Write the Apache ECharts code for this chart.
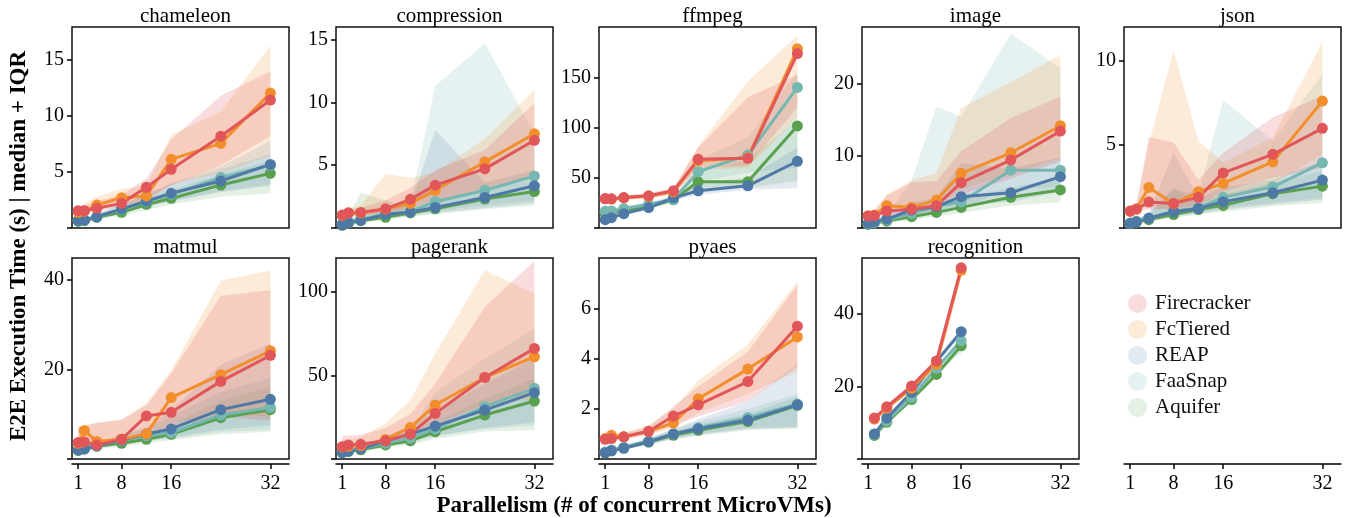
<!DOCTYPE html>
<html>
<head>
<meta charset="utf-8">
<title>E2E execution time vs parallelism</title>
<script src="https://cdn.jsdelivr.net/npm/echarts@6/dist/echarts.min.js"></script>
<style>
  html, body { margin: 0; padding: 0; background: #fff; }
  #chart { width: 1348px; height: 518px; }
</style>
</head>
<body>
<div id="chart"></div>
<script>
var systems = ['Firecracker', 'FcTiered', 'REAP', 'FaaSnap', 'Aquifer'];
var benchmarks = ['chameleon', 'compression', 'ffmpeg', 'image', 'json',
                  'matmul', 'pagerank', 'pyaes', 'recognition'];
var parallelism = [1, 2, 4, 8, 12, 16, 24, 32];
var parallelismRecognition = [2, 4, 8, 12, 16];
var xTickValues = [1, 8, 16, 32];
var yTickValues = [[0, 5, 10, 15], [0, 5, 10, 15], [0, 50, 100, 150], [0, 10, 20], [0, 5, 10],
                   [0, 20, 40], [0, 50, 100], [0, 2, 4, 6], [0, 20, 40]];
var yMax = [17.95, 16, 200, 27.8, 12, 44.8, 120.3, 8.05, 55.4];

// rows: Firecracker, FcTiered, REAP, FaaSnap, Aquifer
var chameleonMed = [
  [1.55, 1.55, 1.76, 2.2, 3.63, 5.24, 8.2, 11.43],
  [1.4, 1.5, 2.05, 2.7, 2.86, 6.13, 7.56, 12.05],
  [0.65, 0.7, 1.0, 1.7, 2.4, 3.1, 4.2, 5.68],
  [0.65, 0.72, 1.0, 1.65, 2.35, 3.0, 4.5, 5.6],
  [0.6, 0.65, 0.95, 1.4, 2.1, 2.65, 3.84, 4.88]];
var chameleonLo = [
  [1.3, 1.3, 1.5, 1.9, 2.6, 3.8, 5.6, 8.2],
  [1.2, 1.3, 1.6, 2.0, 2.3, 3.9, 4.9, 6.4],
  [0.5, 0.55, 0.8, 1.3, 1.9, 2.4, 3.2, 3.8],
  [0.5, 0.55, 0.8, 1.3, 1.9, 2.4, 3.3, 3.9],
  [0.45, 0.5, 0.75, 1.1, 1.6, 2.1, 2.8, 3.1]];
var chameleonHi = [
  [1.9, 2.0, 2.4, 3.0, 4.4, 7.9, 11.8, 14.0],
  [1.8, 2.2, 2.8, 3.5, 3.8, 8.3, 10.4, 16.3],
  [0.8, 0.9, 1.3, 2.1, 3.0, 4.0, 5.5, 7.8],
  [0.8, 0.9, 1.3, 2.1, 3.0, 3.9, 5.2, 6.6],
  [0.75, 0.8, 1.2, 1.8, 2.6, 3.4, 4.8, 6.0]];

var compressionMed = [
  [1.03, 1.21, 1.24, 1.53, 2.28, 3.41, 4.71, 6.98],
  [1.0, 1.2, 1.2, 1.5, 1.96, 3.0, 5.26, 7.5],
  [0.24, 0.42, 0.6, 1.08, 1.27, 1.64, 2.43, 3.36],
  [0.35, 0.5, 0.7, 1.1, 1.3, 2.09, 3.0, 4.13],
  [0.22, 0.4, 0.58, 0.85, 1.2, 1.53, 2.3, 2.9]];
var compressionLo = [
  [0.8, 1.0, 1.0, 1.2, 1.6, 2.2, 3.0, 4.2],
  [0.8, 0.95, 1.0, 1.2, 1.5, 2.1, 3.2, 4.0],
  [0.15, 0.3, 0.45, 0.8, 1.0, 1.2, 1.6, 2.0],
  [0.2, 0.35, 0.5, 0.85, 1.0, 1.4, 1.8, 2.2],
  [0.15, 0.3, 0.4, 0.65, 0.9, 1.1, 1.5, 1.8]];
var compressionHi = [
  [1.3, 1.5, 1.6, 2.2, 3.2, 4.6, 6.2, 9.95],
  [1.3, 1.6, 1.8, 4.3, 4.0, 4.4, 7.1, 11.0],
  [0.4, 0.6, 0.9, 1.5, 1.8, 7.8, 3.6, 4.6],
  [0.5, 0.7, 1.0, 1.6, 2.0, 11.3, 14.7, 7.5],
  [0.35, 1.0, 2.8, 2.2, 1.6, 2.2, 3.0, 3.9]];

var ffmpegMed = [
  [29.3, 29.0, 30.3, 32.0, 37.0, 68.3, 69.3, 173.6],
  [29.0, 28.8, 30.0, 31.5, 36.0, 67.0, 70.0, 178.3],
  [8.3, 10.3, 14.3, 20.3, 30.0, 37.0, 42.0, 66.4],
  [16.6, 17.0, 19.3, 23.6, 28.3, 56.0, 72.6, 139.9],
  [14.3, 15.0, 17.0, 21.0, 28.0, 46.0, 46.0, 101.6]];
var ffmpegLo = [
  [27, 27, 28, 30, 34, 60, 62, 120],
  [27, 27, 28, 29.5, 33, 58, 60, 110],
  [7, 9, 12.5, 18, 27, 33, 38, 39.6],
  [14.5, 15, 17, 21, 26, 46, 55, 60],
  [12.5, 13.5, 15, 19, 25.5, 40, 40, 47]];
var ffmpegHi = [
  [31.5, 31, 32.5, 34.5, 40, 80, 130, 152.6],
  [31, 31, 32.5, 34, 39, 81, 146, 191.5],
  [10, 12, 16, 23, 33, 45, 50, 80],
  [19, 19.5, 22, 26, 31, 68, 90, 155],
  [16, 17, 19, 23.5, 30.5, 55, 68, 108]];

var imageMed = [
  [1.66, 1.7, 2.35, 2.58, 3.08, 6.27, 9.4, 13.4],
  [1.7, 1.8, 3.08, 2.86, 3.87, 7.56, 10.4, 14.15],
  [0.64, 0.9, 1.24, 2.49, 2.95, 4.33, 4.88, 7.1],
  [0.6, 0.8, 1.1, 2.0, 3.0, 3.6, 8.0, 8.0],
  [0.5, 0.7, 0.95, 1.56, 2.16, 2.85, 4.24, 5.26]];
var imageLo = [
  [1.3, 1.4, 1.8, 2.0, 2.4, 4.6, 6.8, 9.2],
  [1.3, 1.4, 2.3, 2.2, 2.9, 5.4, 7.4, 9.6],
  [0.45, 0.65, 0.9, 1.8, 2.2, 3.2, 3.6, 5.0],
  [0.45, 0.6, 0.8, 1.5, 2.2, 2.7, 5.5, 5.6],
  [0.35, 0.5, 0.7, 1.1, 1.6, 2.1, 3.1, 3.55]];
var imageHi = [
  [2.1, 2.3, 4.5, 6.3, 6.5, 10.6, 15.2, 18.2],
  [2.2, 2.5, 4.6, 6.6, 7.6, 16.6, 20.2, 23.9],
  [0.9, 1.2, 1.8, 3.5, 4.2, 9.0, 8.2, 9.8],
  [0.8, 1.1, 1.6, 6.6, 16.8, 15.4, 26.9, 22.1],
  [0.7, 0.95, 1.3, 2.2, 3.0, 4.0, 5.6, 7.0]];

var jsonMed = [
  [1.01, 1.13, 1.55, 1.47, 1.83, 3.29, 4.4, 5.95],
  [1.0, 1.13, 2.42, 1.45, 2.16, 2.66, 3.95, 7.58],
  [0.28, 0.37, 0.58, 0.97, 1.17, 1.57, 2.1, 2.86],
  [0.3, 0.4, 0.6, 1.0, 1.2, 1.83, 2.46, 3.89],
  [0.25, 0.35, 0.5, 0.8, 1.1, 1.35, 2.05, 2.5]];
var jsonLo = [
  [0.85, 0.95, 1.1, 1.1, 1.3, 2.2, 3.0, 3.6],
  [0.85, 0.95, 1.3, 1.1, 1.5, 1.8, 2.6, 4.4],
  [0.2, 0.28, 0.42, 0.7, 0.85, 1.1, 1.4, 1.7],
  [0.22, 0.3, 0.45, 0.75, 0.9, 1.2, 1.5, 1.8],
  [0.18, 0.25, 0.38, 0.6, 0.8, 0.95, 1.3, 1.5]];
var jsonHi = [
  [1.2, 1.4, 5.43, 5.1, 2.86, 4.5, 6.6, 7.9],
  [1.2, 1.4, 5.0, 10.6, 5.2, 3.9, 5.4, 11.1],
  [0.4, 0.5, 0.9, 4.5, 1.8, 2.4, 2.9, 4.0],
  [0.4, 0.55, 0.9, 2.3, 2.0, 7.65, 5.2, 9.2],
  [0.35, 0.5, 0.75, 2.4, 1.5, 2.0, 2.7, 3.4]];

var matmulMed = [
  [3.7, 3.8, 3.1, 4.4, 9.6, 10.4, 17.3, 23.1],
  [3.5, 6.3, 3.9, 4.4, 5.6, 13.7, 18.8, 24.1],
  [2.0, 2.3, 2.9, 4.2, 5.56, 6.7, 11.0, 13.3],
  [2.1, 2.4, 3.0, 4.1, 5.2, 5.9, 9.8, 11.5],
  [1.9, 2.2, 2.9, 3.5, 4.4, 5.5, 9.2, 11.0]];
var matmulLo = [
  [2.6, 2.8, 2.5, 3.4, 5.0, 7.0, 9.5, 8.5],
  [2.6, 3.5, 3.0, 3.4, 4.5, 8.0, 10.0, 9.5],
  [1.5, 1.8, 2.3, 3.3, 4.2, 4.8, 6.5, 7.5],
  [1.5, 1.8, 2.4, 3.2, 4.0, 4.5, 6.0, 6.5],
  [1.4, 1.7, 2.3, 2.8, 3.5, 4.2, 5.5, 6.1]];
var matmulHi = [
  [7.2, 7.5, 8.0, 8.8, 12.0, 19.0, 36.4, 37.6],
  [7.0, 7.5, 8.0, 8.7, 12.4, 19.8, 39.8, 42.0],
  [2.6, 3.0, 3.6, 5.5, 7.0, 11.0, 21.0, 25.8],
  [2.7, 3.0, 3.6, 5.2, 6.8, 9.5, 15.0, 18.0],
  [2.5, 2.8, 3.5, 4.5, 5.5, 7.5, 13.0, 16.0]];

var pagerankMed = [
  [7.4, 8.4, 8.8, 10.9, 14.9, 27.3, 48.8, 66.2],
  [7.2, 7.6, 8.0, 11.7, 18.9, 32.3, 48.8, 61.2],
  [3.8, 4.6, 6.0, 10.9, 14.9, 19.7, 29.3, 39.7],
  [4.5, 5.2, 6.3, 9.5, 12.5, 18.0, 31.3, 42.3],
  [4.0, 4.5, 5.5, 8.4, 10.9, 16.3, 26.3, 34.7]];
var pagerankLo = [
  [5.5, 6.5, 7.0, 8.5, 11.0, 19.0, 33.0, 40.0],
  [5.5, 6.0, 6.5, 9.0, 13.0, 22.0, 32.0, 36.0],
  [3.0, 3.6, 4.8, 8.5, 11.0, 14.0, 18.5, 22.0],
  [3.5, 4.0, 5.0, 7.5, 9.5, 13.5, 18.0, 20.0],
  [3.2, 3.6, 4.4, 6.8, 8.5, 12.0, 16.5, 17.3]];
var pagerankHi = [
  [13.5, 14.0, 14.5, 18.5, 27.0, 45.0, 91.0, 118.5],
  [11.5, 12.0, 13.0, 21.3, 35.3, 63.0, 113.0, 99.0],
  [5.0, 6.0, 7.5, 13.5, 20.0, 28.0, 45.0, 60.0],
  [6.0, 7.0, 8.0, 12.5, 17.0, 40.0, 60.0, 78.0],
  [5.0, 5.6, 7.0, 10.5, 14.0, 22.0, 36.0, 48.0]];

var pyaesMed = [
  [0.79, 0.82, 0.89, 1.11, 1.72, 2.17, 3.1, 5.32],
  [0.82, 0.95, 0.89, 1.11, 1.44, 2.41, 3.6, 4.89],
  [0.25, 0.33, 0.43, 0.69, 1.0, 1.21, 1.55, 2.17],
  [0.28, 0.36, 0.47, 0.72, 1.0, 1.25, 1.65, 2.2],
  [0.25, 0.33, 0.45, 0.68, 0.95, 1.15, 1.5, 2.15]];
var pyaesLo = [
  [0.7, 0.72, 0.78, 0.98, 1.35, 1.7, 2.3, 3.7],
  [0.72, 0.8, 0.78, 0.98, 1.2, 1.85, 2.6, 3.5],
  [0.2, 0.27, 0.36, 0.58, 0.82, 0.98, 1.2, 1.25],
  [0.22, 0.29, 0.38, 0.6, 0.82, 1.0, 1.25, 1.3],
  [0.2, 0.27, 0.37, 0.56, 0.78, 0.92, 1.15, 1.22]];
var pyaesHi = [
  [0.9, 0.95, 1.02, 1.3, 2.1, 2.9, 4.3, 6.98],
  [0.95, 1.1, 1.05, 1.35, 2.0, 3.14, 4.6, 7.1],
  [0.32, 0.4, 0.52, 0.82, 1.2, 1.6, 2.3, 3.8],
  [0.35, 0.43, 0.56, 0.86, 1.2, 1.5, 2.0, 2.6],
  [0.32, 0.4, 0.54, 0.8, 1.12, 1.38, 1.8, 2.5]];

var recognitionMed = [
  [11.3, 14.4, 20.1, 27.0, 52.7],
  [11.0, 14.0, 19.5, 26.1, 52.0],
  [6.9, 11.3, 18.4, 26.9, 35.1],
  [6.8, 10.5, 17.0, 25.0, 32.6],
  [6.5, 10.1, 16.4, 23.3, 31.2]];
var recognitionLo = [
  [10.9, 13.9, 19.4, 26.2, 51.6],
  [10.6, 13.6, 18.9, 25.4, 51.0],
  [6.5, 10.8, 17.7, 26.0, 34.0],
  [6.4, 10.0, 16.4, 24.2, 29.0],
  [6.1, 9.7, 15.8, 22.6, 30.2]];
var recognitionHi = [
  [11.8, 14.9, 20.8, 27.8, 53.6],
  [11.5, 14.5, 20.2, 26.9, 53.0],
  [7.3, 11.8, 19.1, 27.7, 36.1],
  [7.2, 11.0, 17.7, 25.8, 33.5],
  [6.9, 10.5, 17.0, 24.0, 32.2]];

var medians = [chameleonMed, compressionMed, ffmpegMed, imageMed, jsonMed,
               matmulMed, pagerankMed, pyaesMed, recognitionMed];
var lows = [chameleonLo, compressionLo, ffmpegLo, imageLo, jsonLo,
            matmulLo, pagerankLo, pyaesLo, recognitionLo];
var highs = [chameleonHi, compressionHi, ffmpegHi, imageHi, jsonHi,
             matmulHi, pagerankHi, pyaesHi, recognitionHi];

var colors = ['#E15759', '#F28E2B', '#4E79A7', '#76B7B2', '#59A14F'];
var bandColors = ['rgba(225,87,89,0.2)', 'rgba(242,142,43,0.18)', 'rgba(78,121,167,0.16)',
                  'rgba(118,183,178,0.18)', 'rgba(89,161,79,0.16)'];
var font = '"Liberation Serif", "DejaVu Serif", serif';

var colLeft = [72, 336, 599, 862, 1124];
var rowTop = [27, 258];
var boxW = 217, boxH = 201;

var myChart = echarts.init(document.getElementById('chart'));

var grid = [], xAxis = [], yAxis = [], title = [], series = [];

function bottomXAxis(gi) {
  return {
    type: 'value', gridIndex: gi, min: 0, max: 35, position: 'bottom', offset: 5,
    axisLine: { show: true, onZero: false, lineStyle: { color: '#000', width: 1.5 } },
    axisTick: { show: true, length: 5, customValues: xTickValues, lineStyle: { color: '#000', width: 1.5 } },
    axisLabel: { customValues: xTickValues, fontFamily: font, fontSize: 20, color: '#000', margin: 10 },
    splitLine: { show: false }
  };
}

function bandSeries(gi, s, xs, lo, hi) {
  return {
    type: 'custom', name: systems[s], xAxisIndex: gi, yAxisIndex: gi,
    z: 1, silent: true, clip: true, animation: false,
    data: xs.map(function (x, k) { return [x, lo[k], hi[k]]; }),
    encode: { x: 0, y: [1, 2] },
    renderItem: function (params, api) {
      if (params.dataIndex !== 0) return null;
      var pts = [];
      for (var k = 0; k < xs.length; k++) pts.push(api.coord([xs[k], hi[k]]));
      for (var k2 = xs.length - 1; k2 >= 0; k2--) pts.push(api.coord([xs[k2], lo[k2]]));
      return { type: 'polygon', shape: { points: pts }, style: { fill: bandColors[s] } };
    }
  };
}

benchmarks.forEach(function (name, i) {
  var row = i < 5 ? 0 : 1, col = i % 5;
  var xs = name === 'recognition' ? parallelismRecognition : parallelism;
  grid.push({
    left: colLeft[col], top: rowTop[row], width: boxW, height: boxH,
    show: true, borderColor: '#111', borderWidth: 1.5, backgroundColor: 'transparent'
  });
  if (row === 1) {
    xAxis.push(bottomXAxis(i));
  } else {
    xAxis.push({ type: 'value', gridIndex: i, min: 0, max: 35, show: false });
  }
  yAxis.push({
    type: 'value', gridIndex: i, min: 0, max: yMax[i],
    axisLine: { show: false },
    axisTick: { show: true, length: 5, customValues: yTickValues[i], lineStyle: { color: '#000', width: 1.5 } },
    axisLabel: {
      customValues: yTickValues[i].filter(function (v) { return v !== 0; }),
      fontFamily: font, fontSize: 20, color: '#000', margin: 8
    },
    splitLine: { show: false }
  });
  title.push({
    text: name, left: colLeft[col] + boxW / 2, top: rowTop[row] - 26, textAlign: 'center',
    textStyle: { fontFamily: font, fontSize: 21, fontWeight: 'normal', color: '#000' }
  });
  // bands first, then lines; Firecracker on top
  for (var s = systems.length - 1; s >= 0; s--) {
    series.push(bandSeries(i, s, xs, lows[i][s], highs[i][s]));
  }
  for (var t = systems.length - 1; t >= 0; t--) {
    series.push({
      type: 'line', name: systems[t], xAxisIndex: i, yAxisIndex: i, z: 3,
      data: xs.map(function (x, k) { return [x, medians[i][t][k]]; }),
      symbol: 'circle', symbolSize: 11, showAllSymbol: true,
      color: colors[t],
      lineStyle: { width: 3, color: colors[t] },
      itemStyle: { color: colors[t] },
      animation: false
    });
  }
});

// shared x axis below the empty slot under json
grid.push({ left: colLeft[4], top: rowTop[1], width: boxW, height: boxH, show: false });
xAxis.push(bottomXAxis(9));
yAxis.push({ type: 'value', gridIndex: 9, min: 0, max: 1, show: false });

var option = {
  animation: false,
  backgroundColor: '#fff',
  title: title,
  grid: grid,
  xAxis: xAxis,
  yAxis: yAxis,
  legend: {
    orient: 'vertical', left: 1123, top: 288, itemWidth: 19, itemHeight: 19, itemGap: 5,
    icon: 'circle',
    textStyle: { fontFamily: font, fontSize: 21, color: '#111', padding: [0, 0, 0, 3] },
    data: systems.map(function (n, s) {
      return { name: n, itemStyle: { color: bandColors[s], borderWidth: 0 } };
    })
  },
  graphic: [
    {
      type: 'text', x: 19, y: 246, rotation: Math.PI / 2,
      style: {
        text: 'E2E Execution Time (s) | median + IQR', fill: '#000',
        font: 'bold 23px "Liberation Serif", serif', align: 'center', verticalAlign: 'middle'
      }
    },
    {
      type: 'text', x: 634, y: 506,
      style: {
        text: 'Parallelism (# of concurrent MicroVMs)', fill: '#000',
        font: 'bold 23px "Liberation Serif", serif', align: 'center', verticalAlign: 'middle'
      }
    }
  ],
  series: series
};

myChart.setOption(option);
</script>
</body>
</html>
